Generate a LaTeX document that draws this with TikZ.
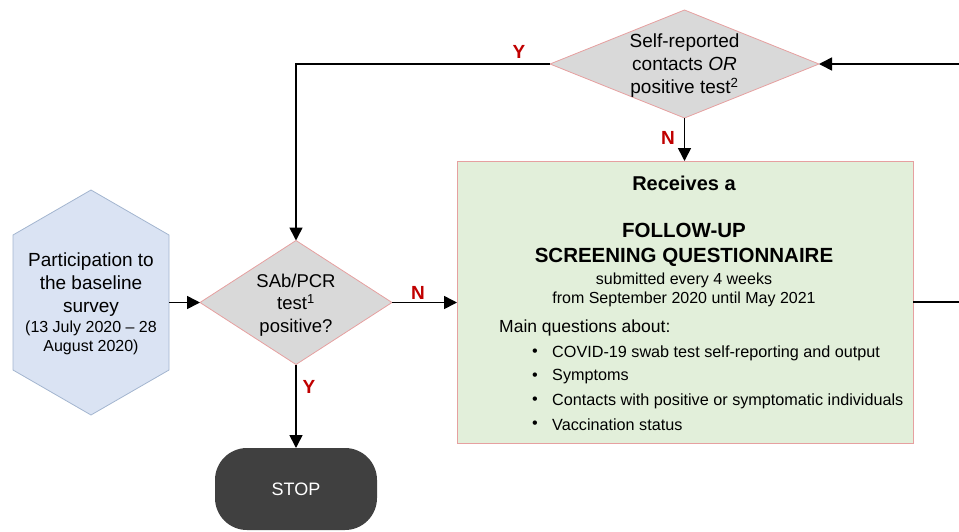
\documentclass[tikz,border=0pt]{standalone}
\usepackage{fontspec}
\setmainfont{Liberation Sans}
\usetikzlibrary{arrows.meta}
\definecolor{hexfill}{HTML}{DAE3F3}
\definecolor{hexline}{HTML}{A3B5CF}
\definecolor{diafill}{HTML}{D9D9D9}
\definecolor{pinkline}{HTML}{E6A0A0}
\definecolor{boxfill}{HTML}{E2EFDA}
\definecolor{stopfill}{HTML}{404040}
\definecolor{lblred}{HTML}{C00000}
\begin{document}
\begin{tikzpicture}[x=1pt,y=-1pt,
  conn/.style={line width=1.6pt,-{Triangle[length=13pt,width=13pt]}},
  plainline/.style={line width=1.6pt},
  lbl/.style={text=lblred,font=\fontsize{19}{19}\selectfont\bfseries,inner sep=0},
  holder/.style={inner sep=0,outer sep=0,minimum width=#1},
  txt/.style={inner sep=0,align=center,text=black},
  item/.style={inner sep=0,anchor=west,font=\fontsize{16.2}{20}\selectfont}]
\useasboundingbox (0,0) rectangle (959,531);

% hexagon
\node[holder=156pt,minimum height=225pt] (hex) at (91,302.5) {};
\filldraw[fill=hexfill,draw=hexline,line width=0.8pt]
  (hex.north) -- ([yshift=-45pt]hex.north west) -- ([yshift=45pt]hex.south west)
  -- (hex.south) -- ([yshift=45pt]hex.south east) -- ([yshift=-45pt]hex.north east) -- cycle;
\node[txt,font=\fontsize{19}{23}\selectfont] (hext1) at (91,285) {Participation to\\the baseline\\survey};
\node[txt,font=\fontsize{16}{19}\selectfont] (hext2) at (91,338) {(13 July 2020 -- 28\\August 2020)};

% decision 1
\node[holder=192pt,minimum height=124pt] (d1) at (296,302.5) {};
\filldraw[fill=diafill,draw=pinkline,line width=0.8pt]
  (d1.north) -- (d1.east) -- (d1.south) -- (d1.west) -- cycle;
\node[txt,font=\fontsize{18.5}{22.5}\selectfont] (d1t) at (296,305) {SAb/PCR\\test\textsuperscript{1}\\positive?};

% decision 2
\node[holder=269pt,minimum height=108pt] (d2) at (684.5,64) {};
\filldraw[fill=diafill,draw=pinkline,line width=0.8pt]
  (d2.north) -- (d2.east) -- (d2.south) -- (d2.west) -- cycle;
\node[txt,font=\fontsize{19}{23}\selectfont] (d2t) at (684.5,66) {Self-reported\\contacts \textit{OR}\\positive test\textsuperscript{2}};

% questionnaire box
\node[holder=456pt,minimum height=282pt,draw=pinkline,fill=boxfill,line width=0.8pt] (box) at (685,302) {};
\node[txt,font=\fontsize{20}{24}\selectfont\bfseries] (b1) at (684,183) {Receives a};
\node[txt,font=\fontsize{20.5}{24.5}\selectfont\bfseries] (b2) at (684,245) {FOLLOW-UP\\SCREENING QUESTIONNAIRE};
\node[txt,font=\fontsize{16}{19}\selectfont] (b3) at (684,289.5) {submitted every 4 weeks\\from September 2020 until May 2021};
\node[item,font=\fontsize{17.5}{20}\selectfont] (b4) at (499,328) {Main questions about:};
\node[item] (bu1) at (532,353) {•};
\node[item] (bu2) at (532,377) {•};
\node[item] (bu3) at (532,401) {•};
\node[item] (bu4) at (532,425) {•};
\node[item] (i1) at (552,353) {COVID-19 swab test self-reporting and output};
\node[item] (i2) at (552,377) {Symptoms};
\node[item] (i3) at (552,401) {Contacts with positive or symptomatic individuals};
\node[item] (i4) at (552,425) {Vaccination status};

% stop
\node[holder=162pt,minimum height=82pt,fill=stopfill,rounded corners=32pt,text=white,font=\fontsize{18}{18}\selectfont] (stop) at (296,489) {STOP};

% connectors
\draw[conn] (hex.east |- d1.west) -- (d1.west);
\draw[conn] (d1.east) -- (box.west |- d1.east);
\draw[conn] (d1.south) -- (stop.north);
\draw[conn] (d2.south) -- (box.north -| d2.south);
\draw[conn] (d2.west) -| (d1.north);
\coordinate (rc1) at (980,302);
\coordinate (rc2) at (980,64);
\draw[plainline] (box.east) -- (rc1) -- (rc2);
\draw[conn] (rc2) -- (d2.east);

% labels
\node[lbl] (ln1) at (418,293) {N};
\node[lbl] (ly1) at (519,52) {Y};
\node[lbl] (ln2) at (668,138) {N};
\node[lbl] (ly2) at (309,387) {Y};
\end{tikzpicture}
\end{document}
